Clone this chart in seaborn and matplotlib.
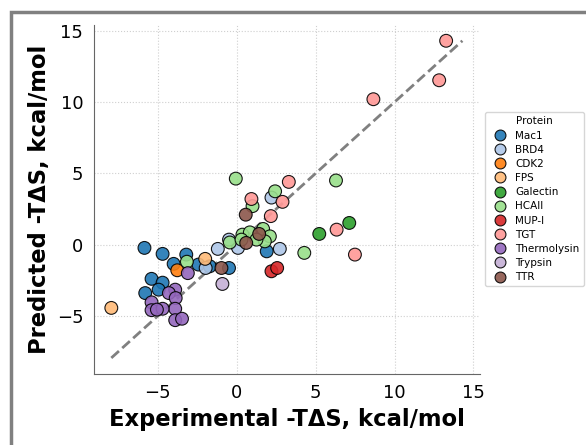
import matplotlib
matplotlib.use("Agg")
import matplotlib.pyplot as plt
from matplotlib.patches import Rectangle
import seaborn as sns
import pandas as pd

# Experimental vs predicted -TdS, per protein
mac1_x = [-5.85, -4.7, -3.2, -4.0, -5.4, -4.7, -4.95, -5.8, -2.43, -1.71, -0.49, 1.9]
mac1_y = [-0.23, -0.65, -0.7, -1.35, -2.4, -2.67, -3.16, -3.4, -1.4, -1.52, -1.64, -0.47]
brd4_x = [-1.97, -1.2, 0.08, -0.49, 2.2, 2.73]
brd4_y = [-1.64, -0.3, -0.23, 0.35, 3.3, -0.3]
cdk2_x = [-3.77]
cdk2_y = [-1.8]
fps_x = [-7.95, -2.0]
fps_y = [-4.44, -1.0]
galectin_x = [5.23, 7.13]
galectin_y = [0.75, 1.52]
hcaii_x = [-3.16, -0.06, 1.0, 2.43, 6.29, 4.28, -0.44, 0.36, 0.83, 1.67, 2.1, 1.78, 0.3, 1.25]
hcaii_y = [-1.2, 4.63, 2.7, 3.74, 4.5, -0.58, 0.15, 0.7, 0.86, 1.1, 0.58, 0.23, 0.35, 0.35]
mupi_x = [2.2, 2.56]
mupi_y = [-1.87, -1.64]
tgt_x = [0.93, 2.9, 2.16, 3.3, 6.33, 7.49, 8.66, 12.83, 13.27]
tgt_y = [3.2, 3.0, 2.0, 4.4, 1.05, -0.7, 10.2, 11.53, 14.3]
thermo_x = [-3.1, -3.9, -4.3, -3.87, -5.4, -3.9, -5.4, -4.7, -5.06, -3.9, -3.47]
thermo_y = [-2.0, -3.16, -3.4, -3.75, -4.05, -4.5, -4.6, -4.5, -4.56, -5.3, -5.2]
trypsin_x = [-0.91]
trypsin_y = [-2.76]
ttr_x = [-0.97, 0.57, 0.6, 1.42]
ttr_y = [-1.64, 2.1, 0.12, 0.75]

proteins = ["Mac1", "BRD4", "CDK2", "FPS", "Galectin", "HCAII", "MUP-I",
            "TGT", "Thermolysin", "Trypsin", "TTR"]
xs = [mac1_x, brd4_x, cdk2_x, fps_x, galectin_x, hcaii_x, mupi_x,
      tgt_x, thermo_x, trypsin_x, ttr_x]
ys = [mac1_y, brd4_y, cdk2_y, fps_y, galectin_y, hcaii_y, mupi_y,
      tgt_y, thermo_y, trypsin_y, ttr_y]

rows = []
for name, xv, yv in zip(proteins, xs, ys):
    for a, b in zip(xv, yv):
        rows.append({"exp": a, "pred": b, "Protein": name})
df = pd.DataFrame(rows)

sns.set_style("whitegrid", {"grid.linestyle": ":", "grid.color": "#cfcfcf",
                            "axes.edgecolor": "#666666", "text.color": "black",
                            "axes.labelcolor": "black", "xtick.color": "black",
                            "ytick.color": "black"})
plt.rcParams["font.family"] = ["DejaVu Sans"]

fig = plt.figure(figsize=(5.86, 4.45), dpi=100)
ax = fig.add_axes([0.160, 0.160, 0.659, 0.784])

# diagonal y = x
lo = min(df["exp"].min(), df["pred"].min())
hi = max(df["exp"].max(), df["pred"].max())
ax.plot([lo, hi], [lo, hi], ls="--", color="gray", lw=2, zorder=1)

pal = sns.color_palette("tab20", 11)
sns.scatterplot(data=df, x="exp", y="pred", hue="Protein", hue_order=proteins,
                palette=pal, s=85, edgecolor="black", linewidth=0.8, alpha=0.9,
                ax=ax, zorder=3)

ax.set_xticks([-5, 0, 5, 10, 15])
ax.set_yticks([-5, 0, 5, 10, 15])
ax.tick_params(labelsize=13, length=4, color="#666666")
ax.set_xlabel("Experimental -TΔS, kcal/mol", fontsize=16.3, fontweight="bold")
ax.set_ylabel("Predicted -TΔS, kcal/mol", fontsize=16.3, fontweight="bold")
for s in ["top", "right"]:
    ax.spines[s].set_visible(False)

leg = ax.legend(title="Protein", loc="center left", bbox_to_anchor=(1.0, 0.5),
                fontsize=7.5, title_fontsize=7.5, markerscale=0.85,
                labelspacing=0.4, handletextpad=0.5,
                frameon=True, edgecolor="#cccccc")

# grey frame around the panel
fig.patches.append(Rectangle((11 / 586, -0.1), 1.2, 1 - 12 / 445 + 0.1,
                             transform=fig.transFigure, fill=False,
                             edgecolor="#808080", lw=2.5))

fig.savefig("out.png", dpi=100)
